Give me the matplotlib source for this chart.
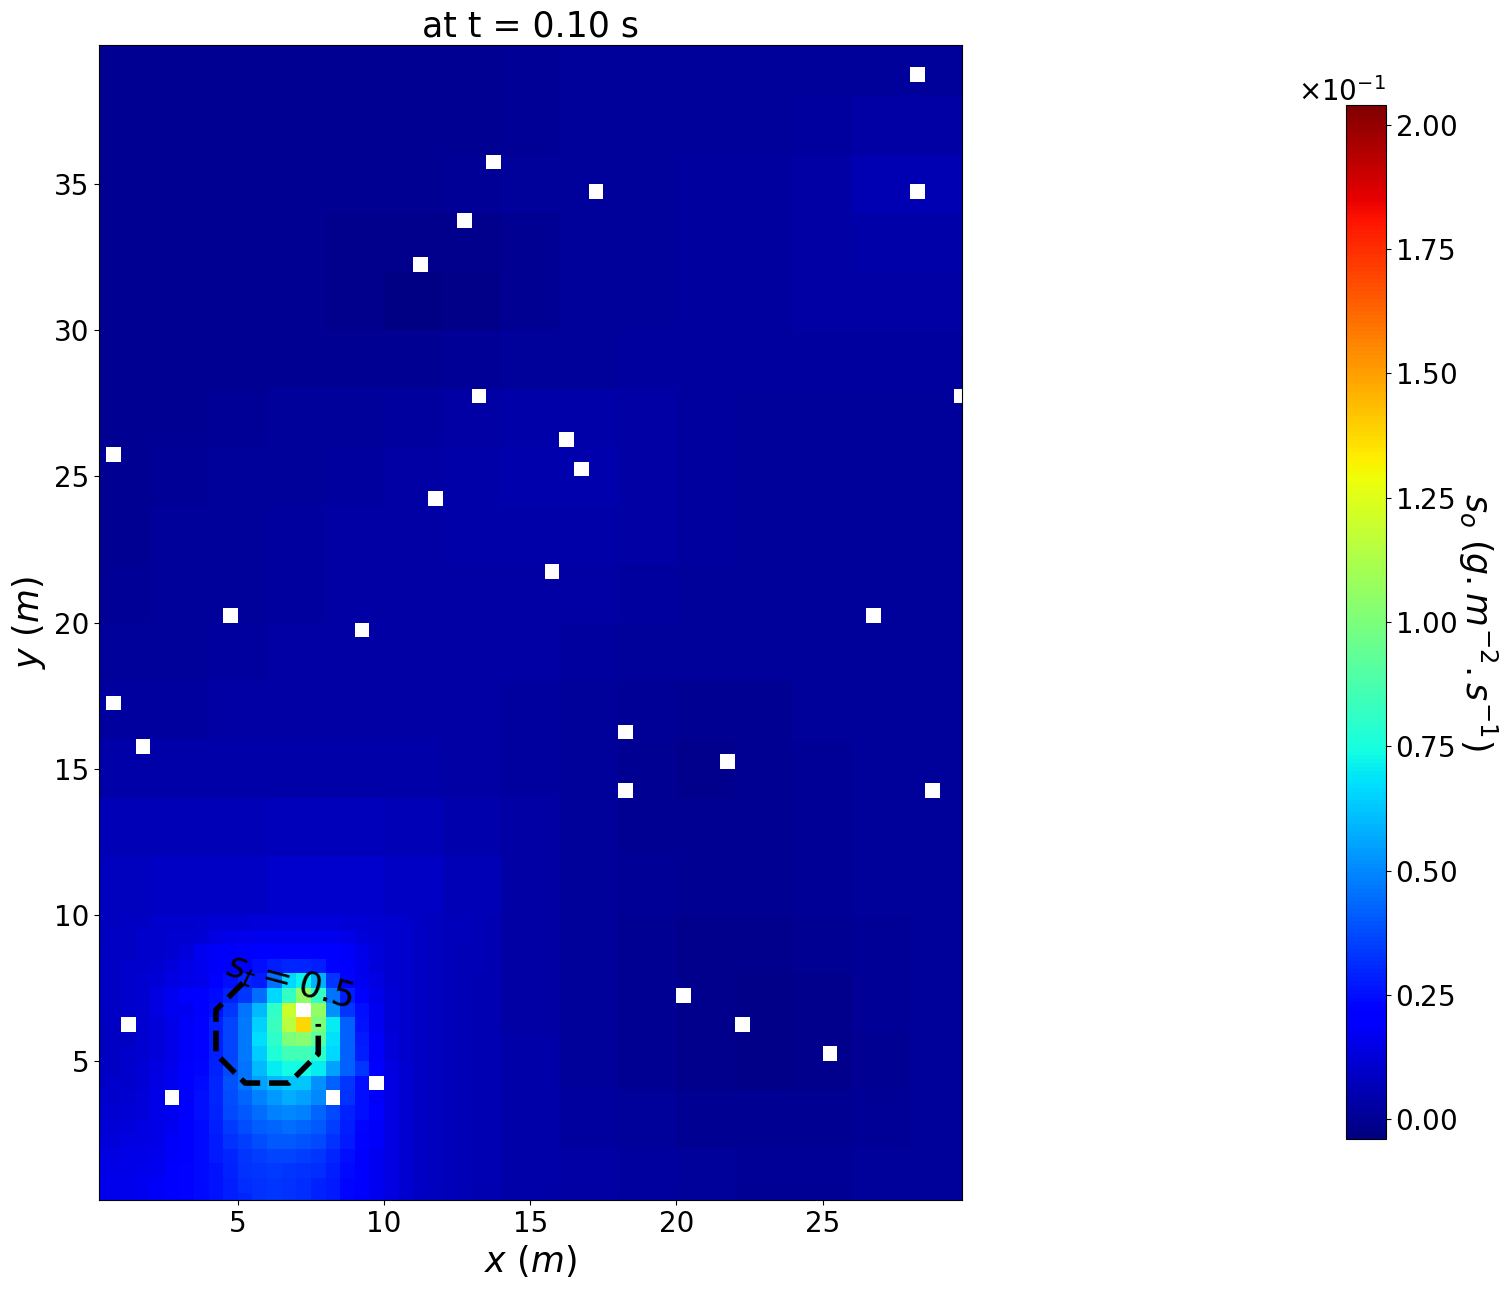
#!/usr/bin/env python

import numpy as np
import matplotlib
matplotlib.use('Agg')
import matplotlib.pyplot as plt
from matplotlib.ticker import ScalarFormatter

# all field values are in units of 1e-1
# background on 2 m blocks, first row is y = 38-40, last is y = 0-2
background = [
    [0.00, 0.00, 0.00, 0.00, 0.00, 0.00, 0.00, 0.005, 0.01, 0.01, 0.01, 0.01, 0.01, 0.015, 0.015],
    [0.00, 0.00, 0.00, 0.00, 0.00, 0.00, 0.00, 0.005, 0.01, 0.01, 0.01, 0.015, 0.02, 0.025, 0.025],
    [0.00, 0.00, 0.00, 0.00, -0.005, 0.00, 0.005, 0.01, 0.015, 0.015, 0.02, 0.02, 0.03, 0.05, 0.05],
    [0.00, 0.00, 0.00, -0.005, -0.01, -0.015, -0.01, 0.00, 0.01, 0.015, 0.02, 0.02, 0.03, 0.035, 0.035],
    [0.00, 0.00, 0.00, 0.00, -0.015, -0.025, -0.02, 0.00, 0.01, 0.015, 0.02, 0.02, 0.025, 0.03, 0.03],
    [0.00, 0.00, 0.00, 0.00, -0.005, 0.00, 0.005, 0.01, 0.015, 0.02, 0.02, 0.02, 0.02, 0.02, 0.02],
    [0.00, 0.00, 0.005, 0.01, 0.015, 0.02, 0.03, 0.035, 0.035, 0.03, 0.02, 0.015, 0.015, 0.015, 0.015],
    [0.00, 0.005, 0.01, 0.015, 0.02, 0.03, 0.035, 0.045, 0.045, 0.03, 0.02, 0.015, 0.01, 0.01, 0.01],
    [0.00, 0.01, 0.01, 0.02, 0.025, 0.03, 0.035, 0.04, 0.04, 0.03, 0.02, 0.015, 0.01, 0.01, 0.01],
    [0.005, 0.01, 0.015, 0.02, 0.03, 0.03, 0.03, 0.03, 0.03, 0.02, 0.015, 0.015, 0.015, 0.015, 0.01],
    [0.01, 0.015, 0.02, 0.025, 0.03, 0.03, 0.03, 0.025, 0.02, 0.01, 0.01, 0.01, 0.01, 0.01, 0.01],
    [0.02, 0.02, 0.025, 0.03, 0.03, 0.03, 0.03, 0.02, 0.01, 0.005, 0.00, 0.00, 0.01, 0.01, 0.01],
    [0.04, 0.04, 0.04, 0.04, 0.04, 0.04, 0.03, 0.02, 0.01, 0.00, -0.01, 0.00, 0.005, 0.01, 0.01],
    [0.06, 0.06, 0.06, 0.07, 0.07, 0.06, 0.045, 0.025, 0.01, 0.00, -0.005, 0.00, 0.005, 0.01, 0.01],
    [0.08, 0.09, 0.09, 0.10, 0.10, 0.09, 0.06, 0.03, 0.015, 0.005, 0.00, 0.00, 0.005, 0.01, 0.01],
    [0.08, 0.08, 0.08, 0.08, 0.08, 0.08, 0.055, 0.03, 0.01, 0.00, -0.01, -0.01, -0.005, 0.005, 0.01],
    [0.08, 0.08, 0.08, 0.08, 0.08, 0.08, 0.05, 0.03, 0.01, -0.005, -0.015, -0.02, -0.01, 0.005, 0.01],
    [0.08, 0.08, 0.08, 0.08, 0.08, 0.08, 0.05, 0.035, 0.01, 0.00, -0.015, -0.02, -0.01, 0.00, 0.01],
    [0.08, 0.08, 0.08, 0.08, 0.08, 0.08, 0.05, 0.035, 0.02, 0.01, 0.00, -0.005, 0.00, 0.005, 0.01],
    [0.08, 0.08, 0.08, 0.08, 0.08, 0.08, 0.05, 0.04, 0.03, 0.02, 0.01, 0.005, 0.005, 0.01, 0.01],
]

# cell by cell around the source, x = 0.25 ... 13.25, first row is y = 9.75
source = [
    [0.08, 0.08, 0.09, 0.09, 0.10, 0.10, 0.10, 0.11, 0.12, 0.12, 0.12, 0.13, 0.13, 0.13, 0.13, 0.13, 0.13, 0.12, 0.12, 0.11, 0.11, 0.10, 0.09, 0.08, 0.07, 0.07, 0.06],
    [0.08, 0.09, 0.09, 0.10, 0.10, 0.11, 0.11, 0.12, 0.14, 0.15, 0.16, 0.16, 0.16, 0.16, 0.16, 0.16, 0.16, 0.15, 0.13, 0.12, 0.11, 0.10, 0.09, 0.08, 0.07, 0.07, 0.06],
    [0.08, 0.09, 0.09, 0.10, 0.10, 0.11, 0.13, 0.17, 0.18, 0.18, 0.19, 0.19, 0.20, 0.20, 0.20, 0.19, 0.19, 0.18, 0.15, 0.13, 0.11, 0.10, 0.09, 0.08, 0.07, 0.06, 0.06],
    [0.09, 0.09, 0.10, 0.10, 0.11, 0.13, 0.15, 0.17, 0.18, 0.19, 0.21, 0.25, 0.28, 0.30, 0.30, 0.28, 0.22, 0.19, 0.16, 0.13, 0.11, 0.10, 0.09, 0.08, 0.07, 0.06, 0.06],
    [0.09, 0.09, 0.10, 0.11, 0.12, 0.14, 0.15, 0.16, 0.19, 0.25, 0.30, 0.27, 0.45, 0.66, 0.72, 0.58, 0.33, 0.22, 0.17, 0.14, 0.11, 0.10, 0.09, 0.08, 0.07, 0.06, 0.05],
    [0.09, 0.09, 0.10, 0.11, 0.14, 0.17, 0.19, 0.20, 0.24, 0.29, 0.33, 0.44, 0.66, 0.82, 1.05, 0.82, 0.46, 0.28, 0.19, 0.15, 0.12, 0.10, 0.09, 0.08, 0.07, 0.06, 0.05],
    [0.09, 0.09, 0.10, 0.11, 0.14, 0.17, 0.17, 0.20, 0.25, 0.33, 0.46, 0.60, 0.81, 1.20, 1.40, 1.05, 0.52, 0.33, 0.25, 0.17, 0.12, 0.10, 0.09, 0.08, 0.07, 0.06, 0.05],
    [0.08, 0.09, 0.09, 0.11, 0.13, 0.15, 0.18, 0.22, 0.28, 0.36, 0.47, 0.65, 0.83, 1.15, 1.38, 1.00, 0.70, 0.42, 0.26, 0.17, 0.12, 0.10, 0.09, 0.08, 0.07, 0.06, 0.05],
    [0.08, 0.09, 0.09, 0.11, 0.13, 0.15, 0.18, 0.22, 0.28, 0.36, 0.47, 0.67, 0.80, 1.00, 1.03, 0.92, 0.68, 0.42, 0.27, 0.18, 0.13, 0.10, 0.09, 0.08, 0.07, 0.06, 0.05],
    [0.08, 0.09, 0.10, 0.11, 0.13, 0.15, 0.18, 0.22, 0.28, 0.36, 0.47, 0.64, 0.77, 0.85, 0.85, 0.80, 0.66, 0.42, 0.28, 0.18, 0.13, 0.10, 0.09, 0.08, 0.07, 0.06, 0.05],
    [0.09, 0.09, 0.10, 0.12, 0.14, 0.16, 0.19, 0.23, 0.29, 0.37, 0.46, 0.60, 0.70, 0.74, 0.74, 0.70, 0.55, 0.42, 0.33, 0.20, 0.14, 0.11, 0.09, 0.08, 0.07, 0.06, 0.05],
    [0.09, 0.10, 0.10, 0.12, 0.14, 0.17, 0.20, 0.24, 0.30, 0.39, 0.46, 0.55, 0.60, 0.63, 0.63, 0.52, 0.42, 0.33, 0.25, 0.18, 0.14, 0.11, 0.09, 0.08, 0.07, 0.06, 0.05],
    [0.10, 0.10, 0.11, 0.13, 0.15, 0.17, 0.20, 0.25, 0.30, 0.38, 0.43, 0.48, 0.53, 0.57, 0.55, 0.50, 0.40, 0.32, 0.25, 0.18, 0.14, 0.11, 0.09, 0.08, 0.07, 0.06, 0.05],
    [0.11, 0.11, 0.12, 0.13, 0.15, 0.17, 0.19, 0.25, 0.29, 0.37, 0.40, 0.44, 0.48, 0.50, 0.48, 0.43, 0.37, 0.29, 0.25, 0.19, 0.14, 0.11, 0.09, 0.08, 0.07, 0.06, 0.05],
    [0.12, 0.12, 0.13, 0.14, 0.15, 0.17, 0.20, 0.24, 0.28, 0.34, 0.38, 0.41, 0.43, 0.44, 0.43, 0.40, 0.35, 0.28, 0.23, 0.18, 0.14, 0.11, 0.09, 0.08, 0.07, 0.06, 0.05],
    [0.13, 0.13, 0.14, 0.14, 0.15, 0.18, 0.20, 0.24, 0.27, 0.32, 0.35, 0.38, 0.40, 0.40, 0.39, 0.37, 0.32, 0.27, 0.22, 0.18, 0.14, 0.11, 0.09, 0.08, 0.07, 0.06, 0.05],
    [0.14, 0.14, 0.15, 0.15, 0.16, 0.18, 0.20, 0.24, 0.27, 0.30, 0.33, 0.35, 0.36, 0.36, 0.35, 0.33, 0.30, 0.25, 0.21, 0.17, 0.14, 0.11, 0.09, 0.08, 0.07, 0.06, 0.05],
    [0.15, 0.15, 0.15, 0.16, 0.17, 0.19, 0.22, 0.24, 0.26, 0.29, 0.32, 0.33, 0.34, 0.33, 0.32, 0.31, 0.28, 0.24, 0.20, 0.17, 0.14, 0.11, 0.09, 0.08, 0.07, 0.06, 0.05],
    [0.16, 0.16, 0.16, 0.17, 0.18, 0.20, 0.22, 0.24, 0.26, 0.28, 0.31, 0.32, 0.33, 0.32, 0.31, 0.29, 0.27, 0.23, 0.20, 0.17, 0.14, 0.11, 0.09, 0.08, 0.07, 0.06, 0.05],
    [0.16, 0.16, 0.17, 0.17, 0.18, 0.20, 0.22, 0.24, 0.26, 0.28, 0.30, 0.32, 0.33, 0.32, 0.31, 0.29, 0.27, 0.23, 0.20, 0.17, 0.14, 0.11, 0.09, 0.08, 0.07, 0.06, 0.05],
]

# sensors, masked out of the field
sensor_x = [28.25, 13.75, 17.25, 28.25, 12.75, 11.25, 13.25, 29.75, 16.25, 0.75,
            16.75, 11.75, 15.75, 4.75, 26.75, 9.25, 0.75, 1.75, 18.25, 21.75,
            18.25, 28.75, 20.25, 7.25, 1.25, 22.25, 25.25, 9.75, 2.75, 8.25]
sensor_y = [38.75, 35.75, 34.75, 34.75, 33.75, 32.25, 27.75, 27.75, 26.25, 25.75,
            25.25, 24.25, 21.75, 20.25, 20.25, 19.75, 17.25, 15.75, 16.25, 15.25,
            14.25, 14.25, 7.25, 6.75, 6.25, 6.25, 5.25, 4.25, 3.75, 3.75]

# coarse s_t field for the dashed contour
st_x = [3.0, 5.25, 6.75, 9.0]
st_y = [3.0, 5.25, 6.75, 9.0]
st = [[0.00, 0.10, 0.10, 0.00],
      [0.10, 0.82, 0.82, 0.10],
      [0.10, 0.82, 0.82, 0.10],
      [0.00, 0.10, 0.10, 0.00]]

cbar_ticks = [0.0, 0.25, 0.5, 0.75, 1.0, 1.25, 1.5, 1.75, 2.0]
VMIN = -0.04
VMAX = 2.04

W, H = 1508., 1289.

# build the grid, cells are centred on 0.25, 0.75, ...
x = np.arange(60) * 0.5 + 0.25
y = np.arange(80) * 0.5 + 0.25
field = np.repeat(np.repeat(np.array(background)[::-1], 4, axis=0), 4, axis=1)
patch = np.array(source)[::-1]
field[:patch.shape[0], :patch.shape[1]] = patch
for sx, sy in zip(sensor_x, sensor_y):
    field[int(sy / 0.5), int(sx / 0.5)] = np.nan
field = field * 0.1

fig = plt.figure(figsize=(W / 100, H / 100), dpi=100)
ax = fig.add_axes([99 / W, 1 - 1200 / H, 862.5 / W, 1155 / H])
cax = fig.add_axes([1345.5 / W, 1 - 1139 / H, 40 / W, 1034 / H])

cmap = plt.get_cmap('jet').copy()
cmap.set_bad('white')
mesh = ax.pcolormesh(x, y, np.ma.masked_invalid(field), shading='nearest',
                     cmap=cmap, vmin=VMIN * 0.1, vmax=VMAX * 0.1)
ax.set_xlim(0.25, 29.75)
ax.set_ylim(0.25, 39.75)

# s_t contour with its label
cs = ax.contour(st_x, st_y, st, levels=[0.5], colors='k', linestyles='dashed', linewidths=4)
labels = ax.clabel(cs, inline=True, inline_spacing=-14, fontsize=26,
                   fmt={0.5: r'$\mathit{s_t = 0.5}$'}, manual=[(6.9, 7.7)])
for label in labels:
    label.set_rotation(-15)
    label.set_position((6.78, 7.72))

ax.set_title('at t = 0.10 s', fontsize=25, pad=6)
ax.set_xlabel(r'$x\ (m)$', fontsize=25)
ax.set_ylabel(r'$y\ (m)$', fontsize=25)
ax.tick_params(labelsize=20)

# colorbar
cb = fig.colorbar(mesh, cax=cax)
cb.set_ticks([t * 0.1 for t in cbar_ticks])
fmt = ScalarFormatter(useMathText=True)
fmt.set_powerlimits((-1, -1))
cb.ax.yaxis.set_major_formatter(fmt)
cb.ax.tick_params(labelsize=20)
cb.ax.yaxis.get_offset_text().set_fontsize(20)
cb.set_label(r'$s_o\ (g.m^{-2}.s^{-1})$', fontsize=25, rotation=270, labelpad=30)

plt.savefig('out.png', dpi=100)
